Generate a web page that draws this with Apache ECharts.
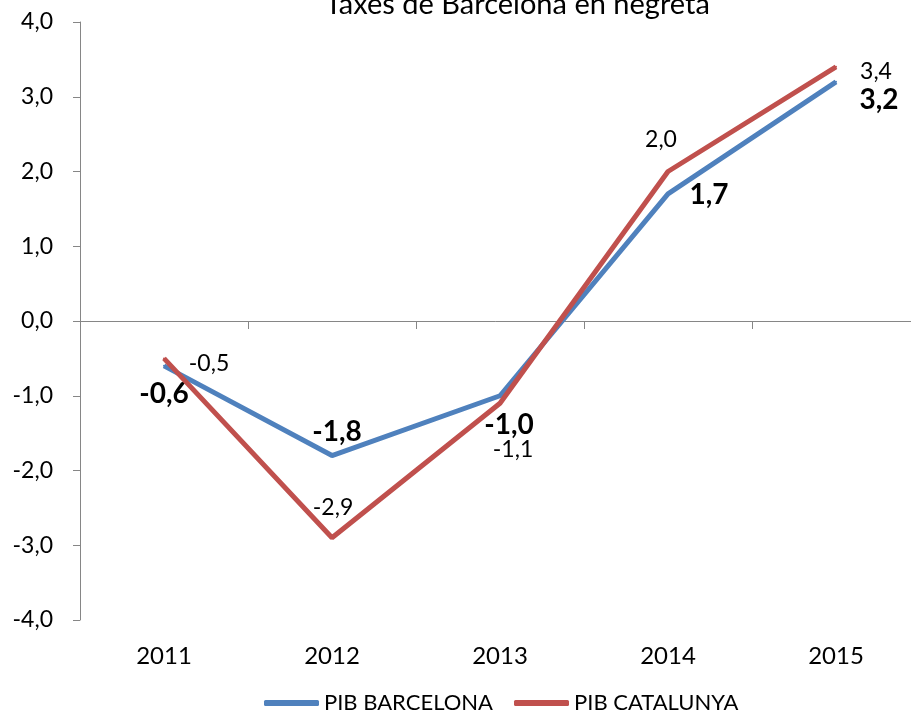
<!DOCTYPE html>
<html>
<head>
<meta charset="utf-8">
<script src="https://cdn.jsdelivr.net/npm/echarts@6/dist/echarts.min.js"></script>
<style>
  html, body { margin: 0; padding: 0; background: #fff; }
  #chart { width: 911px; height: 713px; }
</style>
</head>
<body>
<div id="chart"></div>
<script>
const years = ['2011', '2012', '2013', '2014', '2015'];
const pibBarcelona = [-0.6, -1.8, -1.0, 1.7, 3.2];
const pibCatalunya = [-0.5, -2.9, -1.1, 2.0, 3.4];
// label offsets
const bcnOffsets = [[0, 28], [5, -24], [9, 29], [41, 1], [43, 18]];
const catOffsets = [[45, 5], [1, -30], [13, 46], [-7, -32], [40, 5]];

const font = 'Lato';
const fmt = v => v.toFixed(1).replace('.', ',');

const chart = echarts.init(document.getElementById('chart'));

const option = {
  animation: false,
  textStyle: { fontFamily: font },
  title: {
    text: 'Taxes de Barcelona en negreta',
    left: 320,
    top: -15,
    textStyle: { fontFamily: font, fontSize: 29, fontWeight: 'normal', color: '#000' }
  },
  legend: {
    left: 259,
    top: 687,
    icon: 'roundRect',
    itemWidth: 55,
    itemHeight: 6,
    itemGap: 21,
    textStyle: { fontFamily: font, fontSize: 22, color: '#000' },
    data: ['PIB BARCELONA', 'PIB CATALUNYA']
  },
  grid: { left: 80, width: 840, top: 22, bottom: 93, outerBoundsMode: 'none' },
  xAxis: [
    {
      type: 'category',
      data: years,
      position: 'top',
      axisLine: { onZero: true, lineStyle: { color: '#868686', width: 1 } },
      axisTick: { show: true, inside: true, length: 8, lineStyle: { color: '#868686' } },
      axisLabel: { show: false }
    },
    {
      type: 'category',
      data: years,
      position: 'bottom',
      axisLine: { show: false, onZero: false },
      axisTick: { show: false },
      axisLabel: { margin: 24, fontFamily: font, fontSize: 24, color: '#000' }
    }
  ],
  yAxis: {
    type: 'value',
    min: -4,
    max: 4,
    interval: 1,
    axisLine: { show: true, onZero: false, lineStyle: { color: '#868686', width: 1 } },
    axisTick: { show: true, length: 7, lineStyle: { color: '#868686' } },
    splitLine: { show: false },
    axisLabel: { margin: 27, fontFamily: font, fontSize: 23, color: '#000', formatter: fmt }
  },
  series: [
    {
      name: 'PIB BARCELONA',
      type: 'line',
      xAxisIndex: 0,
      symbol: 'circle',
      symbolSize: 2,
      silent: true,
      color: '#4F81BD',
      lineStyle: { width: 5, color: '#4F81BD' },
      label: {
        show: true,
        position: 'inside',
        fontFamily: font,
        fontSize: 28,
        fontWeight: 'bold',
        color: '#000',
        formatter: p => fmt(p.value)
      },
      data: pibBarcelona.map((v, i) => ({ value: v, label: { offset: bcnOffsets[i] } })),
      z: 2
    },
    {
      name: 'PIB CATALUNYA',
      type: 'line',
      xAxisIndex: 0,
      symbol: 'circle',
      symbolSize: 2,
      silent: true,
      color: '#C0504D',
      lineStyle: { width: 5, color: '#C0504D' },
      label: {
        show: true,
        position: 'inside',
        fontFamily: font,
        fontSize: 23,
        color: '#000',
        formatter: p => fmt(p.value)
      },
      data: pibCatalunya.map((v, i) => ({ value: v, label: { offset: catOffsets[i] } })),
      z: 3
    }
  ]
};

chart.setOption(option);
</script>
</body>
</html>
